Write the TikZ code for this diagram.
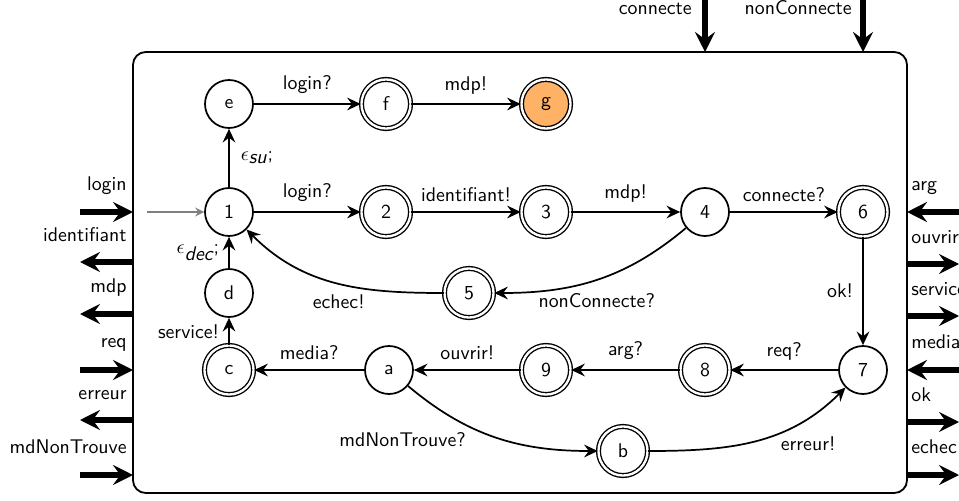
\documentclass[tikz,border=0pt]{standalone}
\usetikzlibrary{arrows.meta,positioning}
\renewcommand{\familydefault}{\sfdefault}
\begin{document}
\begin{tikzpicture}[x=0.55pt,y=-0.55pt,
  every node/.style={font=\sffamily\fontsize{10.9}{13}\selectfont},
  st/.style={circle,draw,line width=0.95pt,minimum size=26.4pt,inner sep=0pt},
  acc/.style={circle,draw,line width=0.75pt,double,double distance=1.3pt,minimum size=27pt,inner sep=0pt},
  tr/.style={line width=0.95pt,-{Stealth[length=7.5pt,width=7pt,inset=2.6pt]}},
  port/.style={line width=3.1pt,-{Stealth[length=11pt,width=11pt,inset=4pt]}},
  lab/.style={inner sep=2pt},
]
\useasboundingbox (0,0) rectangle (959,501);
% box
\draw[line width=1pt,rounded corners=7pt] (133,52) rectangle (907,493);
% states
\node[st] (e) at (229,104) {e};
\node[acc] (f) at (386,104) {f};
\node[acc,fill=orange!60] (g) at (546,104) {g};
\node[st] (n1) at (229,212) {1};
\node[acc] (n2) at (386,212) {2};
\node[acc] (n3) at (546,212) {3};
\node[st] (n4) at (705,212) {4};
\node[acc] (n6) at (863,212) {6};
\node[acc] (n5) at (469,293) {5};
\node[st] (d) at (229,293) {d};
\node[acc] (c) at (229,370) {c};
\node[st] (a) at (389,370) {a};
\node[acc] (n9) at (546,370) {9};
\node[acc] (n8) at (705,370) {8};
\node[st] (n7) at (863,370) {7};
\node[acc] (b) at (623,451) {b};
% initial
\coordinate (init) at (147,212);
\draw[gray,line width=0.6pt,-{Stealth[length=5pt,width=5pt,inset=1.8pt]}] (init) -- (n1);
% transitions
\draw[tr] (e) -- node[lab,above=3pt]{login?} (f);
\draw[tr] (f) -- node[lab,above=3pt]{mdp!} (g);
\draw[tr] (n1) -- node[lab,right=4pt]{$\epsilon_{\textit{su}}$;} (e);
\draw[tr] (n1) -- node[lab,above=3pt]{login?} (n2);
\draw[tr] (n2) -- node[lab,above=3pt]{identifiant!} (n3);
\draw[tr] (n3) -- node[lab,above=3pt]{mdp!} (n4);
\draw[tr] (n4) -- node[lab,above=3pt]{connecte?} (n6);
\draw[tr] (n4) to[out=-140,in=0] node[lab,pos=0.97,anchor=north west,xshift=18pt,yshift=2pt]{nonConnecte?} (n5);
\draw[tr] (n5) to[out=180,in=-45] node[lab,pos=0.45,anchor=north,xshift=-4pt,yshift=-3pt]{echec!} (n1);
\draw[tr] (d) -- node[lab,left=3pt]{$\epsilon_{\textit{dec}}$;} (n1);
\draw[tr] (c) -- node[lab,left=3pt]{service!} (d);
\draw[tr] (a) -- node[lab,above=3pt]{media?} (c);
\draw[tr] (n9) -- node[lab,above=3pt]{ouvrir!} (a);
\draw[tr] (n8) -- node[lab,above=3pt]{arg?} (n9);
\draw[tr] (n7) -- node[lab,above=3pt]{req?} (n8);
\draw[tr] (n6) -- node[lab,left=3pt]{ok!} (n7);
\draw[tr] (a) to[out=-40,in=180] node[lab,pos=0.25,below left=6pt and -10pt]{mdNonTrouve?} (b);
\draw[tr] (b) to[out=0,in=-135] node[lab,pos=0.75,below right=6pt and -14pt]{erreur!} (n7);
% ports left
\coordinate (Lin1) at (80,212);   \coordinate (Lb1) at (133,212);
\coordinate (Lb2) at (133,262);   \coordinate (Lout2) at (80,262);
\coordinate (Lb3) at (133,314);   \coordinate (Lout3) at (80,314);
\coordinate (Lin4) at (80,370);   \coordinate (Lb4) at (133,370);
\coordinate (Lb5) at (133,420);   \coordinate (Lout5) at (80,420);
\coordinate (Lin6) at (80,475);   \coordinate (Lb6) at (133,475);
\draw[port] (Lin1) -- (Lb1);
\draw[port] (Lb2) -- (Lout2);
\draw[port] (Lb3) -- (Lout3);
\draw[port] (Lin4) -- (Lb4);
\draw[port] (Lb5) -- (Lout5);
\draw[port] (Lin6) -- (Lb6);
\node[anchor=base east,inner sep=0pt] (tl1) at (127,190) {login};
\node[anchor=base east,inner sep=0pt] (tl2) at (127,241) {identifiant};
\node[anchor=base east,inner sep=0pt] (tl3) at (127,292) {mdp};
\node[anchor=base east,inner sep=0pt] (tl4) at (127,347) {req};
\node[anchor=base east,inner sep=0pt] (tl5) at (127,399) {erreur};
\node[anchor=base east,inner sep=0pt] (tl6) at (127,453) {mdNonTrouve};
% ports right
\coordinate (Rin1) at (959,212);  \coordinate (Rb1) at (907,212);
\coordinate (Rb2) at (907,264);   \coordinate (Rout2) at (959,264);
\coordinate (Rb3) at (907,316);   \coordinate (Rout3) at (959,316);
\coordinate (Rin4) at (959,370);  \coordinate (Rb4) at (907,370);
\coordinate (Rb5) at (907,422);   \coordinate (Rout5) at (959,422);
\coordinate (Rb6) at (907,475);   \coordinate (Rout6) at (959,475);
\draw[port] (Rin1) -- (Rb1);
\draw[port] (Rb2) -- (Rout2);
\draw[port] (Rb3) -- (Rout3);
\draw[port] (Rin4) -- (Rb4);
\draw[port] (Rb5) -- (Rout5);
\draw[port] (Rb6) -- (Rout6);
\node[anchor=base west,inner sep=0pt] (tr1) at (911,190) {arg};
\node[anchor=base west,inner sep=0pt] (tr2) at (911,243) {ouvrir};
\node[anchor=base west,inner sep=0pt] (tr3) at (911,295) {service};
\node[anchor=base west,inner sep=0pt] (tr4) at (911,348) {media};
\node[anchor=base west,inner sep=0pt] (tr5) at (911,401) {ok};
\node[anchor=base west,inner sep=0pt] (tr6) at (911,453) {echec};
% ports top
\coordinate (Tin1) at (705,0);  \coordinate (Tb1) at (705,52);
\coordinate (Tin2) at (863,0);  \coordinate (Tb2) at (863,52);
\draw[port] (Tin1) -- (Tb1);
\draw[port] (Tin2) -- (Tb2);
\node[anchor=base east,inner sep=0pt] (tt1) at (692,15) {connecte};
\node[anchor=base east,inner sep=0pt] (tt2) at (852,15) {nonConnecte};
\end{tikzpicture}
\end{document}
